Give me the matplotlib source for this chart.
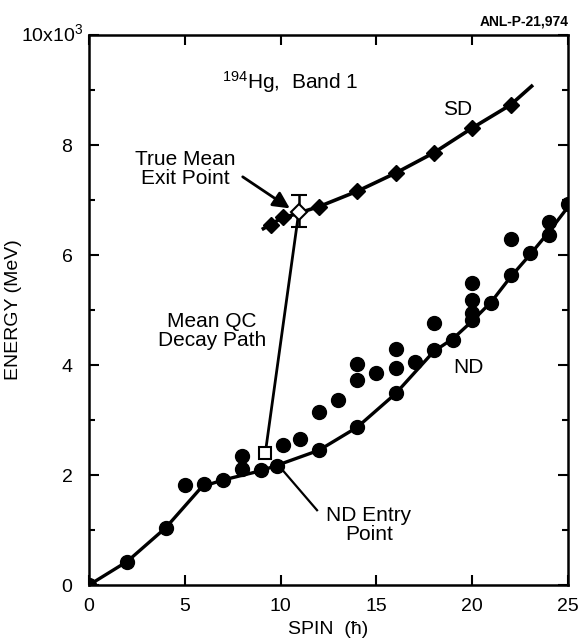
import matplotlib
matplotlib.use("Agg")
import matplotlib.pyplot as plt
from matplotlib.ticker import MultipleLocator
from matplotlib.transforms import ScaledTranslation

plt.rcParams['font.family'] = ['Liberation Sans', 'DejaVu Sans']
plt.rcParams['mathtext.fontset'] = 'custom'
plt.rcParams['mathtext.rm'] = 'Liberation Sans'
plt.rcParams['mathtext.it'] = 'Liberation Sans:italic'

# ND level data (spin, energy keV)
nd_spin = [0, 2, 4, 5, 6, 7, 8, 8, 9, 9.8, 10.1, 11, 12, 12, 13, 14, 14, 14,
           15, 16, 16, 16, 17, 18, 18, 19, 20, 20, 20, 20, 21, 22, 22, 23,
           24, 24, 25]
nd_energy = [0, 420, 1040, 1820, 1830, 1910, 2350, 2110, 2090, 2170, 2545,
             2660, 2450, 3150, 3360, 2880, 3730, 4020, 3850, 3490, 3940, 4300,
             4060, 4270, 4760, 4455, 4820, 4940, 5180, 5485, 5120, 5630, 6290,
             6030, 6360, 6600, 6930]

# ND yrast curve
nd_curve_spin = [0, 2, 4, 5.9, 7, 9, 10, 12, 14, 16, 18, 19, 20, 21, 22, 23, 24, 25.1]
nd_curve_energy = [0, 430, 1040, 1790, 1910, 2080, 2200, 2450, 2870, 3480,
                   4250, 4480, 4800, 5150, 5600, 6000, 6420, 6920]

# SD band
sd_spin = [9.5, 10.1, 12, 14, 16, 18, 20, 22]
sd_energy = [6540, 6700, 6880, 7160, 7490, 7855, 8310, 8730]
sd_curve_spin = [9.1, 10, 12, 14, 16, 18, 20, 22, 23.1]
sd_curve_energy = [6480, 6660, 6880, 7160, 7490, 7860, 8310, 8730, 9070]

# exit / entry points
exit_spin, exit_energy = 10.95, 6790
exit_err_low, exit_err_high = 275, 300
entry_spin, entry_energy = 9.2, 2400

fig = plt.figure(figsize=(5.82, 6.44), dpi=100)
ax = fig.add_axes([0.153, 0.0916, 0.823, 0.854])

# decay path
ax.plot([exit_spin, entry_spin], [exit_energy, entry_energy], color='black', lw=2, zorder=2)

ax.plot(nd_curve_spin, nd_curve_energy, color='black', lw=2.4, zorder=2)
ax.plot(nd_spin, nd_energy, 'o', color='black', ms=10, zorder=3)

ax.plot(sd_curve_spin, sd_curve_energy, color='black', lw=2.6, zorder=2)
ax.plot(sd_spin, sd_energy, 'D', color='black', ms=8, zorder=3)

ax.errorbar([exit_spin], [exit_energy], yerr=[[exit_err_low], [exit_err_high]],
            fmt='D', mfc='white', mec='black', mew=1.5, ms=8, ecolor='black',
            elinewidth=1.8, capsize=6, capthick=1.8, zorder=5)
ax.errorbar([entry_spin], [entry_energy], xerr=[[0.35], [0.35]],
            fmt='s', mfc='white', mec='black', mew=1.5, ms=8, ecolor='black',
            elinewidth=1.5, capsize=0, zorder=5)

ax.set_xlim(0, 25)
ax.set_ylim(0, 10000)
ax.xaxis.set_major_locator(MultipleLocator(5))
ax.yaxis.set_minor_locator(MultipleLocator(1000))
ax.set_yticks([0, 2000, 4000, 6000, 8000, 10000])
ax.set_yticklabels(['0', '2', '4', '6', '8', r'10x10$\mathregular{^3}$'])
ax.tick_params(which='both', direction='in', top=True, right=True, width=1.5, labelsize=14)
ax.tick_params(which='major', length=7)
ax.tick_params(which='minor', length=4)
ax.tick_params(axis='y', which='major', pad=12)
ax.tick_params(axis='x', which='major', pad=9)
for s in ax.spines.values():
    s.set_linewidth(1.8)

# the top label sits closer to the axis and a little higher
top_lab = ax.get_yticklabels()[-1]
top_lab.set_transform(top_lab.get_transform() + ScaledTranslation(8 / 72, 2 / 72, fig.dpi_scale_trans))

ax.set_xlabel('SPIN  (ħ)', fontsize=14, labelpad=5)
ax.set_ylabel('ENERGY (MeV)', fontsize=14)
ax.yaxis.set_label_coords(-0.14, 0.5)

ax.text(10.5, 9150, r'$\mathregular{^{194}}$Hg,  Band 1', fontsize=15, ha='center', va='center')
ax.text(19.25, 8640, 'SD', fontsize=15, ha='center', va='center')
ax.text(19.8, 3960, 'ND', fontsize=15, ha='center', va='center')
ax.text(5.0, 7560, 'True Mean\nExit Point', fontsize=15, ha='center', va='center', linespacing=1.0)
ax.text(6.4, 4620, 'Mean QC\nDecay Path', fontsize=15, ha='center', va='center', linespacing=1.0)
ax.text(14.6, 1100, 'ND Entry\nPoint', fontsize=15, ha='center', va='center', linespacing=1.0)

ax.annotate('', xy=(10.6, 6820), xytext=(7.9, 7450),
            arrowprops=dict(arrowstyle='-|>,head_length=1.0,head_width=0.5',
                            color='black', lw=2))
ax.plot([10.1, 11.9], [2090, 1360], color='black', lw=1.6)

fig.text(0.977, 0.955, 'ANL-P-21,974', fontsize=10, fontweight='bold', ha='right', va='bottom')

fig.savefig('out.png', dpi=100)
